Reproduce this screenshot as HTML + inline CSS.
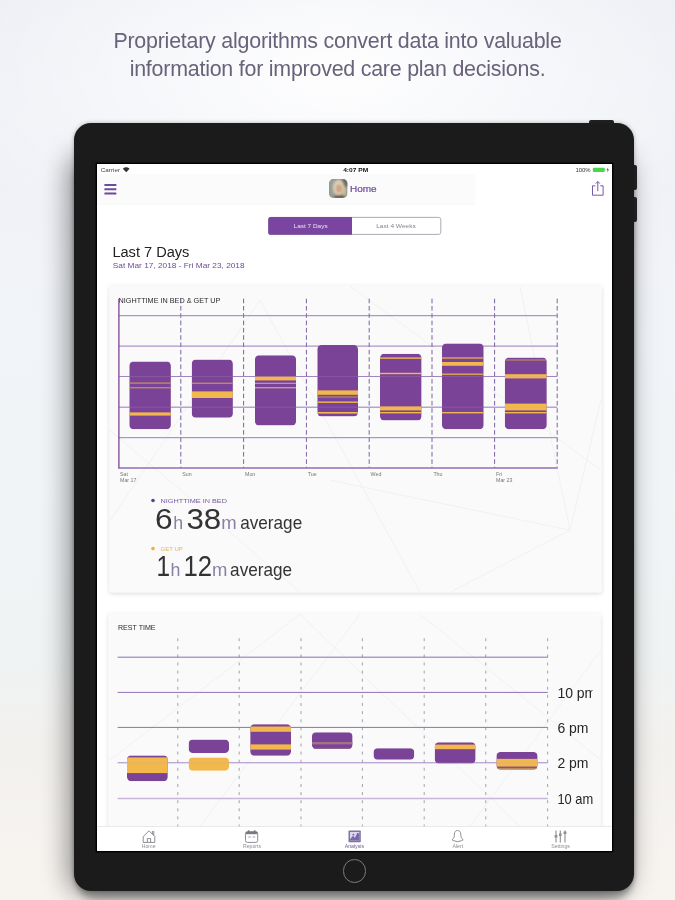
<!DOCTYPE html>
<html lang="en">
<head>
<meta charset="utf-8">
<title>Analysis</title>
<style>
*{box-sizing:border-box;margin:0;padding:0}
html,body{width:675px;height:900px;overflow:hidden}
body{position:relative;font-family:"Liberation Sans",sans-serif;background:#f3f3f4}
.bg{position:absolute;left:0;top:0;width:675px;height:900px;
 background:
  radial-gradient(ellipse 420px 200px at 50% 8%, rgba(255,255,255,.95), rgba(255,255,255,0) 100%),
  linear-gradient(180deg,#eceef4 0%,#f1f3f8 30%,#f0f4f6 55%,#eff3f4 72%,#f3f1ee 83%,#f7f4f0 100%)}
.headline{position:absolute;left:0;top:28.2px;width:675px;text-align:center;font-size:21.4px;line-height:27.7px;color:#68627a;letter-spacing:-0.22px;white-space:nowrap;filter:blur(0.3px)}
.dshadow{position:absolute;left:77px;top:152px;width:555px;height:736px;border-radius:18px;box-shadow:-6px 4px 26px 4px rgba(0,0,0,.4),0 10px 7px 1px rgba(0,0,0,.3);background:#1a1a1a}
.device{position:absolute;left:74.4px;top:123.1px;width:559.9px;height:767.6px;border-radius:17px;background:#1b1b1b;box-shadow:0 0 4px rgba(0,0,0,.28)}
.btn-top{position:absolute;left:588.6px;top:120.2px;width:25.6px;height:6px;border-radius:2px 2px 0 0;background:#222}
.btn-r1{position:absolute;left:632px;top:165px;width:4.7px;height:25px;border-radius:0 2px 2px 0;background:#222}
.btn-r2{position:absolute;left:632px;top:197px;width:4.7px;height:25px;border-radius:0 2px 2px 0;background:#222}
.homebtn{position:absolute;left:343px;top:859.2px;width:23.4px;height:23.4px;border-radius:50%;border:1.5px solid #7c7c7c}
.screen{position:absolute;left:97px;top:163.8px;width:515.3px;height:686.9px;background:#fff;overflow:hidden;box-shadow:0 0 0 1.4px #000}
.screen svg{position:absolute;left:0;top:0;display:block;font-family:"Liberation Sans",sans-serif;filter:blur(0.45px)}
</style>
</head>
<body>
<div class="bg"></div>
<div class="headline">Proprietary algorithms convert data into valuable<br>information for improved care plan decisions.</div>
<div class="dshadow"></div>
<div class="btn-top"></div><div class="btn-r1"></div><div class="btn-r2"></div>
<div class="device"></div>
<div class="homebtn"></div>
<div class="screen">
<svg width="515.3" height="686.9" viewBox="97 163.8 515.3 686.9">
<defs>
<filter id="bl" x="-20%" y="-20%" width="140%" height="140%"><feGaussianBlur stdDeviation="0.9"/></filter>
<clipPath id="lc"><rect x="550" y="640" width="42.6" height="180"/></clipPath>
<filter id="cs" x="-5%" y="-5%" width="110%" height="112%"><feDropShadow dx="0" dy="1.2" stdDeviation="2.2" flood-color="#000" flood-opacity="0.16"/></filter>
</defs>
<rect x="97" y="174" width="378" height="30.4" fill="#fbfbfb"/>
<rect x="97" y="204.2" width="378" height="0.5" fill="#f4f4f4"/>
<text x="100.8" y="171.8" font-size="5.9" fill="#444" textLength="19.2" lengthAdjust="spacingAndGlyphs">Carrier</text>
<path d="M122.8 168.5 Q126.2 165.8 129.6 168.5 L126.2 172 Z" fill="#333"/>
<text x="343.2" y="171.7" font-size="5.9" fill="#111" font-weight="bold" textLength="25" lengthAdjust="spacingAndGlyphs">4:07 PM</text>
<text x="575.4" y="171.7" font-size="5.9" fill="#333" textLength="15.2" lengthAdjust="spacingAndGlyphs">100%</text>
<rect x="592.8" y="167.5" width="12" height="4.2" rx="1.2" fill="#4cd44c"/>
<rect x="605" y="168.7" width="0.8" height="1.8" fill="#aea"/>
<path d="M608.1 167.4 L606.8 170 L607.8 170 L607.3 172.2 L608.9 169.4 L607.9 169.4 Z" fill="#333"/>
<rect x="104.4" y="183.8" width="12" height="1.9" rx="0.5" fill="#6d4a9c"/>
<rect x="104.4" y="188.1" width="12" height="1.9" rx="0.5" fill="#6d4a9c"/>
<rect x="104.4" y="192.4" width="12" height="1.9" rx="0.5" fill="#6d4a9c"/>
<clipPath id="av"><rect x="329" y="178.9" width="18.5" height="18.6" rx="4.4"/></clipPath>
<g clip-path="url(#av)"><rect x="329" y="178.8" width="18.6" height="18.8" fill="#8d8f89"/><g filter="url(#bl)"><rect x="329" y="178.8" width="6" height="19" fill="#98a097"/><rect x="342" y="178.8" width="6" height="8" fill="#6c6a6a"/><ellipse cx="338.6" cy="187.4" rx="5.6" ry="8" fill="#dccfb0"/><ellipse cx="339" cy="188.4" rx="3.1" ry="4.2" fill="#cfa38a"/><ellipse cx="339.4" cy="197.4" rx="6" ry="2.4" fill="#5d4c4a"/><ellipse cx="344.6" cy="191" rx="1.8" ry="5" fill="#c9bc99"/></g></g>
<text x="350" y="191.8" font-size="9.8" fill="#6d4a9c" stroke="#6d4a9c" stroke-width="0.2" textLength="26.7" lengthAdjust="spacingAndGlyphs">Home</text>
<g fill="none" stroke="#7457a6" stroke-width="1"><path d="M595.4 185.6 H592.5 V195 H603.1 V185.6 H600.2"/><path d="M597.8 191 V181.6"/><path d="M595.8 183.4 L597.8 181.2 L599.8 183.4"/></g>
<rect x="268.6" y="217.2" width="172.2" height="17" rx="2.2" fill="#fff" stroke="#a3a1ab" stroke-width="0.9"/>
<path d="M270.8 216.8 H352 V234.6 H270.8 Q268.2 234.6 268.2 232 V219.4 Q268.2 216.8 270.8 216.8Z" fill="#7a45a0"/>
<text x="293.6" y="228" font-size="6.2" fill="#e9e3f1" textLength="34" lengthAdjust="spacingAndGlyphs">Last 7 Days</text>
<text x="376.2" y="228" font-size="6.2" fill="#85838c" textLength="39.6" lengthAdjust="spacingAndGlyphs">Last 4 Weeks</text>
<text x="112.4" y="256.8" font-size="14.6" fill="#222" textLength="77" lengthAdjust="spacingAndGlyphs">Last 7 Days</text>
<text x="112.8" y="267.6" font-size="7.8" fill="#6d4a9c" textLength="131.8" lengthAdjust="spacingAndGlyphs">Sat Mar 17, 2018 - Fri Mar 23, 2018</text>
<rect x="109.6" y="285.4" width="491.9" height="306.6" rx="2" fill="#fafafa" filter="url(#cs)"/>
<rect x="108.6" y="613.6" width="491.9" height="260" rx="2" fill="#fafafa" filter="url(#cs)"/>
<g stroke="#efefef" stroke-width="0.8" fill="none"><path d="M110 520 L260 300 M260 300 L420 592 M350 286 L601 470 M570 530 L601 400 M570 530 L450 592 M570 530 L330 480 M110 430 L300 592 M520 286 L570 530"/><path d="M110 760 L300 614 M300 614 L520 826 M420 614 L601 760 M200 826 L360 614 M601 650 L470 826"/></g>
<text x="118.6" y="302.4" font-size="6.7" fill="#2a2a2a" textLength="101.8" lengthAdjust="spacingAndGlyphs">NIGHTTIME IN BED &amp; GET UP</text>
<line x1="180.8" y1="298.5" x2="180.8" y2="467.6" stroke="#7a62a4" stroke-width="1" stroke-dasharray="4.6 2.7"/>
<line x1="243.6" y1="298.5" x2="243.6" y2="467.6" stroke="#7a62a4" stroke-width="1" stroke-dasharray="4.6 2.7"/>
<line x1="306.4" y1="298.5" x2="306.4" y2="467.6" stroke="#7a62a4" stroke-width="1" stroke-dasharray="4.6 2.7"/>
<line x1="369.2" y1="298.5" x2="369.2" y2="467.6" stroke="#7a62a4" stroke-width="1" stroke-dasharray="4.6 2.7"/>
<line x1="432.0" y1="298.5" x2="432.0" y2="467.6" stroke="#7a62a4" stroke-width="1" stroke-dasharray="4.6 2.7"/>
<line x1="494.6" y1="298.5" x2="494.6" y2="467.6" stroke="#7a62a4" stroke-width="1" stroke-dasharray="4.6 2.7"/>
<line x1="557.2" y1="298.5" x2="557.2" y2="467.6" stroke="#7a62a4" stroke-width="1" stroke-dasharray="4.6 2.7"/>
<line x1="118.9" y1="315.5" x2="557.2" y2="315.5" stroke="#8d6fb5" stroke-width="0.9"/>
<line x1="118.9" y1="345.9" x2="557.2" y2="345.9" stroke="#8d6fb5" stroke-width="0.9"/>
<line x1="118.9" y1="376.3" x2="557.2" y2="376.3" stroke="#8d6fb5" stroke-width="0.9"/>
<line x1="118.9" y1="407.0" x2="557.2" y2="407.0" stroke="#8d6fb5" stroke-width="0.9"/>
<line x1="118.9" y1="437.5" x2="557.2" y2="437.5" stroke="#8d6fb5" stroke-width="0.9"/>
<line x1="118.9" y1="298.5" x2="118.9" y2="468.4" stroke="#7b4397" stroke-width="1.3"/>
<line x1="118.3" y1="467.8" x2="557.6" y2="467.8" stroke="#8d6fb5" stroke-width="1.3"/>
<clipPath id="a0"><rect x="129.3" y="361.3" width="41.6" height="67.8" rx="4.3"/></clipPath><g clip-path="url(#a0)"><rect x="129.3" y="361.3" width="41.6" height="67.8" fill="#7b4397"/><rect x="129.3" y="382.2" width="41.6" height="1.4" fill="#b98a63"/><rect x="129.3" y="386.8" width="41.6" height="1.4" fill="#b98a63"/><rect x="129.3" y="412.2" width="41.6" height="3.2" fill="#f2b84b"/></g>
<clipPath id="a1"><rect x="191.7" y="359.4" width="41.2" height="58.1" rx="4.3"/></clipPath><g clip-path="url(#a1)"><rect x="191.7" y="359.4" width="41.2" height="58.1" fill="#7b4397"/><rect x="191.7" y="382.4" width="41.2" height="1.4" fill="#b98a63"/><rect x="191.7" y="391.2" width="41.2" height="6.6" fill="#f2b84b"/></g>
<clipPath id="a2"><rect x="254.9" y="355.1" width="41.2" height="70.1" rx="4.3"/></clipPath><g clip-path="url(#a2)"><rect x="254.9" y="355.1" width="41.2" height="70.1" fill="#7b4397"/><rect x="254.9" y="376.4" width="41.2" height="3.8" fill="#f2b84b"/><rect x="254.9" y="382.6" width="41.2" height="1.0" fill="#c9a7c4"/><rect x="254.9" y="386.8" width="41.2" height="1.4" fill="#c39a9a"/></g>
<clipPath id="a3"><rect x="317.3" y="344.7" width="40.7" height="71.5" rx="4.3"/></clipPath><g clip-path="url(#a3)"><rect x="317.3" y="344.7" width="40.7" height="71.5" fill="#7b4397"/><rect x="317.3" y="390.2" width="40.7" height="4.4" fill="#f2b84b"/><rect x="317.3" y="396.2" width="40.7" height="1.2" fill="#b98a63"/><rect x="317.3" y="401.2" width="40.7" height="1.6" fill="#e3ab55"/><rect x="317.3" y="411.8" width="40.7" height="1.6" fill="#f2b84b"/></g>
<clipPath id="a4"><rect x="380.0" y="353.6" width="41.6" height="66.6" rx="4.3"/></clipPath><g clip-path="url(#a4)"><rect x="380.0" y="353.6" width="41.6" height="66.6" fill="#7b4397"/><rect x="380.0" y="357.2" width="41.6" height="1.4" fill="#f2b84b"/><rect x="380.0" y="372.6" width="41.6" height="1.4" fill="#f2b84b"/><rect x="380.0" y="406.2" width="41.6" height="4.0" fill="#f2b84b"/><rect x="380.0" y="411.8" width="41.6" height="1.4" fill="#f2b84b"/></g>
<clipPath id="a5"><rect x="442.0" y="343.2" width="41.7" height="85.9" rx="4.3"/></clipPath><g clip-path="url(#a5)"><rect x="442.0" y="343.2" width="41.7" height="85.9" fill="#7b4397"/><rect x="442.0" y="357.2" width="41.7" height="1.2" fill="#f2b84b"/><rect x="442.0" y="361.8" width="41.7" height="3.8" fill="#f2b84b"/><rect x="442.0" y="373.4" width="41.7" height="1.2" fill="#f2b84b"/><rect x="442.0" y="411.8" width="41.7" height="1.4" fill="#f2b84b"/></g>
<clipPath id="a6"><rect x="504.8" y="357.4" width="42.0" height="71.7" rx="4.3"/></clipPath><g clip-path="url(#a6)"><rect x="504.8" y="357.4" width="42.0" height="71.7" fill="#7b4397"/><rect x="504.8" y="359.2" width="42.0" height="1.2" fill="#b98a63"/><rect x="504.8" y="374.0" width="42.0" height="4.2" fill="#f2b84b"/><rect x="504.8" y="403.4" width="42.0" height="6.8" fill="#f2b84b"/><rect x="504.8" y="411.8" width="42.0" height="1.4" fill="#f2b84b"/></g>
<line x1="118.9" y1="376.3" x2="557.2" y2="376.3" stroke="#b9a3cf" stroke-width="0.7" opacity="0.28"/>
<line x1="118.9" y1="407.0" x2="557.2" y2="407.0" stroke="#b9a3cf" stroke-width="0.7" opacity="0.28"/>
<text x="120.0" y="475.6" font-size="5.3" fill="#777">Sat</text>
<text x="182.2" y="475.6" font-size="5.3" fill="#777">Sun</text>
<text x="245.0" y="475.6" font-size="5.3" fill="#777">Mon</text>
<text x="307.8" y="475.6" font-size="5.3" fill="#777">Tue</text>
<text x="370.6" y="475.6" font-size="5.3" fill="#777">Wed</text>
<text x="433.4" y="475.6" font-size="5.3" fill="#777">Thu</text>
<text x="496.0" y="475.6" font-size="5.3" fill="#777">Fri</text>
<text x="120" y="482" font-size="5.3" fill="#777">Mar 17</text>
<text x="496" y="482" font-size="5.3" fill="#777">Mar 23</text>
<circle cx="153" cy="500.3" r="1.8" fill="#5b3d91"/>
<text x="160.6" y="502.7" font-size="6" fill="#7a5aa8" textLength="66.3" lengthAdjust="spacingAndGlyphs">NIGHTTIME IN BED</text>
<text x="155.1" y="529" font-size="29.4" fill="#333" textLength="17.6" lengthAdjust="spacingAndGlyphs">6</text>
<text x="173.2" y="529" font-size="19" fill="#8b7fa6" textLength="9.9" lengthAdjust="spacingAndGlyphs">h</text>
<text x="186.4" y="529" font-size="29.4" fill="#333" textLength="34.8" lengthAdjust="spacingAndGlyphs">38</text>
<text x="221.2" y="529" font-size="18" fill="#8b7fa6" textLength="15.4" lengthAdjust="spacingAndGlyphs">m</text>
<text x="240.2" y="529" font-size="17.6" fill="#333" textLength="62" lengthAdjust="spacingAndGlyphs">average</text>
<circle cx="153" cy="548.4" r="1.8" fill="#f0b040"/>
<text x="160.6" y="550.8" font-size="6" fill="#e6b54f" textLength="22.2" lengthAdjust="spacingAndGlyphs">GET UP</text>
<text x="156.6" y="575.7" font-size="29.4" fill="#333" textLength="13.6" lengthAdjust="spacingAndGlyphs">1</text>
<text x="170.6" y="575.7" font-size="19" fill="#8b7fa6" textLength="9.9" lengthAdjust="spacingAndGlyphs">h</text>
<text x="183.4" y="575.7" font-size="29.4" fill="#333" textLength="28.6" lengthAdjust="spacingAndGlyphs">12</text>
<text x="211.9" y="575.7" font-size="18" fill="#8b7fa6" textLength="15.4" lengthAdjust="spacingAndGlyphs">m</text>
<text x="230.1" y="575.7" font-size="17.6" fill="#333" textLength="62" lengthAdjust="spacingAndGlyphs">average</text>
<text x="118" y="629.4" font-size="6.7" fill="#2a2a2a" textLength="37.6" lengthAdjust="spacingAndGlyphs">REST TIME</text>
<line x1="177.8" y1="638" x2="177.8" y2="827" stroke="#9a9aa2" stroke-width="0.9" stroke-dasharray="3 5.1"/>
<line x1="239.2" y1="638" x2="239.2" y2="827" stroke="#9a9aa2" stroke-width="0.9" stroke-dasharray="3 5.1"/>
<line x1="301.0" y1="638" x2="301.0" y2="827" stroke="#9a9aa2" stroke-width="0.9" stroke-dasharray="3 5.1"/>
<line x1="362.4" y1="638" x2="362.4" y2="827" stroke="#9a9aa2" stroke-width="0.9" stroke-dasharray="3 5.1"/>
<line x1="424.2" y1="638" x2="424.2" y2="827" stroke="#9a9aa2" stroke-width="0.9" stroke-dasharray="3 5.1"/>
<line x1="485.8" y1="638" x2="485.8" y2="827" stroke="#9a9aa2" stroke-width="0.9" stroke-dasharray="3 5.1"/>
<line x1="547.6" y1="638" x2="547.6" y2="827" stroke="#9a9aa2" stroke-width="0.9" stroke-dasharray="3 5.1"/>
<line x1="117.6" y1="657.0" x2="547.8" y2="657.0" stroke="#8d6fb5" stroke-width="1"/>
<line x1="117.6" y1="692.2" x2="547.8" y2="692.2" stroke="#8d6fb5" stroke-width="1"/>
<line x1="117.6" y1="727.2" x2="547.8" y2="727.2" stroke="#8d6fb5" stroke-width="1"/>
<line x1="117.6" y1="762.6" x2="547.8" y2="762.6" stroke="#a68fc6" stroke-width="1.1"/>
<line x1="117.6" y1="798.4" x2="547.8" y2="798.4" stroke="#c9b6d6" stroke-width="1.5"/>
<clipPath id="b0"><rect x="127.0" y="755.2" width="40.8" height="25.8" rx="4.2"/></clipPath><g clip-path="url(#b0)"><rect x="127.0" y="755.2" width="40.8" height="25.8" fill="#7b4397"/><rect x="127.0" y="757.2" width="40.8" height="15.7" fill="#f2b84b"/></g>
<clipPath id="b1"><rect x="188.6" y="739.4" width="40.4" height="13.5" rx="4.2"/></clipPath><g clip-path="url(#b1)"><rect x="188.6" y="739.4" width="40.4" height="13.5" fill="#7b4397"/></g>
<clipPath id="b2"><rect x="250.2" y="724.0" width="40.8" height="31.6" rx="4.2"/></clipPath><g clip-path="url(#b2)"><rect x="250.2" y="724.0" width="40.8" height="31.6" fill="#7b4397"/><rect x="250.2" y="726.3" width="40.8" height="5.3" fill="#f2b84b"/><rect x="250.2" y="744.2" width="40.8" height="5.2" fill="#f2b84b"/></g>
<clipPath id="b3"><rect x="311.9" y="732.1" width="40.7" height="16.6" rx="4.2"/></clipPath><g clip-path="url(#b3)"><rect x="311.9" y="732.1" width="40.7" height="16.6" fill="#7b4397"/><rect x="311.9" y="741.8" width="40.7" height="2.4" fill="#a27384"/><rect x="311.9" y="747.6" width="40.7" height="1.1" fill="#93608e"/></g>
<clipPath id="b4"><rect x="373.5" y="748.0" width="40.8" height="11.5" rx="4.2"/></clipPath><g clip-path="url(#b4)"><rect x="373.5" y="748.0" width="40.8" height="11.5" fill="#7b4397"/></g>
<clipPath id="b5"><rect x="434.7" y="742.1" width="40.9" height="21.2" rx="4.2"/></clipPath><g clip-path="url(#b5)"><rect x="434.7" y="742.1" width="40.9" height="21.2" fill="#7b4397"/><rect x="434.7" y="744.4" width="40.9" height="4.6" fill="#f2b84b"/></g>
<clipPath id="b6"><rect x="496.4" y="751.8" width="41.2" height="17.7" rx="4.2"/></clipPath><g clip-path="url(#b6)"><rect x="496.4" y="751.8" width="41.2" height="17.7" fill="#7b4397"/><rect x="496.4" y="758.7" width="41.2" height="7.7" fill="#f2b84b"/><rect x="496.4" y="767.6" width="41.2" height="1.2" fill="#b98a63"/></g>
<clipPath id="b7"><rect x="188.6" y="757.2" width="40.4" height="13.4" rx="4.2"/></clipPath><g clip-path="url(#b7)"><rect x="188.6" y="757.2" width="40.4" height="13.4" fill="#f2b84b"/></g>
<line x1="118" y1="762.6" x2="547.8" y2="762.6" stroke="#b9a3cf" stroke-width="0.7" opacity="0.3"/>
<text x="557.4" y="697.7" font-size="14" fill="#262626" clip-path="url(#lc)">10 pm</text>
<text x="557.4" y="732.7" font-size="14" fill="#262626">6 pm</text>
<text x="557.4" y="768.1" font-size="14" fill="#262626">2 pm</text>
<text x="557.4" y="803.8" font-size="14" fill="#262626" textLength="35.8" lengthAdjust="spacingAndGlyphs">10 am</text>
<rect x="97" y="826.4" width="516" height="26" fill="#fff"/>
<rect x="97" y="826.2" width="516" height="0.6" fill="#dcdcdc"/>
<g fill="none" stroke="#8e8e93" stroke-width="1"><path d="M143.2 836.4 L149 830.6 L154.8 836.4 V842.2 H143.2 Z"/><path d="M147.4 842.2 V838.4 H150.6 V842.2"/><path d="M152.4 833.8 V831.2 H153.8 V835.4"/></g>
<text x="148.6" y="848.3" font-size="5.2" fill="#8e8e93" text-anchor="middle">Home</text>
<g fill="none" stroke="#8e8e93" stroke-width="1"><rect x="245.5" y="831.4" width="12.2" height="10.8" rx="1.8"/><path d="M246 832.9 H257.2" stroke="#7a7a80" stroke-width="2.2"/><path d="M248.6 830 V832.6 M254.6 830 V832.6" stroke="#77777c" stroke-width="1.5"/><path d="M248.2 836.8 H250.8 M252.6 836.8 H255.2" stroke="#a79fb8"/></g>
<text x="252" y="848.3" font-size="5.2" fill="#8e8e93" text-anchor="middle">Reports</text>
<rect x="348.5" y="830.2" width="12.3" height="11.8" rx="0.8" fill="#7d75a0"/>
<rect x="350" y="831.8" width="9.3" height="8.6" fill="#ddd8ee"/>
<path d="M350 840.4 L350 839 L353 835.6 L355 837.6 L357.4 832.6 L359.3 833.6 V840.4 Z" fill="#7868ad"/>
<circle cx="353.4" cy="834.4" r="0.9" fill="#6a5a9e"/>
<text x="354.4" y="848.3" font-size="5.2" fill="#6a5f88" text-anchor="middle">Analysis</text>
<g fill="none" stroke="#8e8e93" stroke-width="1"><path d="M452 839.6 C454.2 838.2 454.4 836 454.4 834 C454.4 831.4 456 830.3 457.6 830.3 C459.2 830.3 460.8 831.4 460.8 834 C460.8 836 461 838.2 463.2 839.6 L461.4 840.5 Q457.6 842.6 453.8 840.5 Z"/></g>
<text x="457.8" y="848.3" font-size="5.2" fill="#8e8e93" text-anchor="middle">Alert</text>
<g fill="none" stroke="#8e8e93" stroke-width="1.1"><path d="M556 830.2 V842.4 M560.3 830.2 V842.4 M565 830.2 V842.4"/><path d="M554.6 836 H557.4 M559 834.6 H561.6 M563.6 832.6 H566.4" stroke-width="2.4"/></g>
<text x="560.6" y="848.3" font-size="5.2" fill="#8e8e93" text-anchor="middle">Settings</text>
</svg>
</div>
</body>
</html>
